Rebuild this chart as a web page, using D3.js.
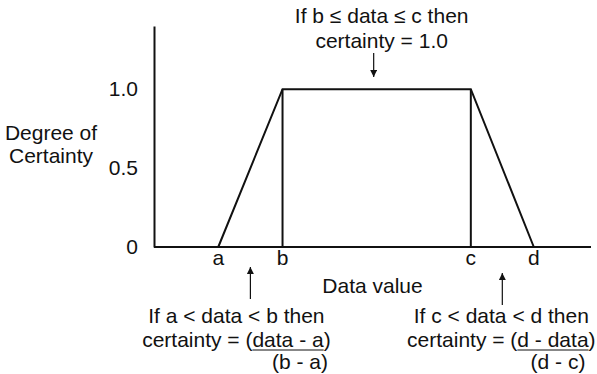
<!DOCTYPE html>
<html>
<head>
<meta charset="utf-8">
<script src="https://cdn.jsdelivr.net/npm/d3@7"></script>
<style>
  body { margin: 0; background: #fff; }
  svg text { font-family: "Liberation Sans", Arial, Helvetica, sans-serif; font-size: 21px; fill: #111; }
</style>
</head>
<body>
<script>
// membership function breakpoints (data value units) and certainty
var categories = ["a", "b", "c", "d"];
var breakpoints = [1, 2, 4.93, 5.91];
var certainty = [0, 1, 1, 0];

// y axis ticks
var yTickValues = [0, 0.5, 1.0];
var yTickLabels = ["0", "0.5", "1.0"];

// axis extents
var xMax = 6.8;
var yMax = 1.4;

// annotation texts
var yTitle = ["Degree of", "Certainty"];
var xTitle = "Data value";
var topNote = ["If b \u2264 data \u2264 c then", "certainty = 1.0"];
var leftNote = ["If a < data < b then", ["certainty = (", "data - a", ")"], "(b - a)"];
var rightNote = ["If c < data < d then", ["certainty = (", "d - data", ")"], "(d - c)"];

var W = 597, H = 374;

var svg = d3.select("body").append("svg")
  .attr("width", W)
  .attr("height", H);

var x = d3.scaleLinear().domain([0, xMax]).range([154, 591]);
var y = d3.scaleLinear().domain([0, yMax]).range([247, 26]);

// arrowhead
svg.append("defs").append("marker")
  .attr("id", "head")
  .attr("viewBox", "0 0 10 10")
  .attr("refX", 10).attr("refY", 5)
  .attr("markerWidth", 8).attr("markerHeight", 7)
  .attr("markerUnits", "userSpaceOnUse")
  .attr("orient", "auto")
  .append("path")
  .attr("d", "M0,0 L10,5 L0,10 Z")
  .attr("fill", "#111");

// axes (no tick marks)
var yAxis = d3.axisLeft(y)
  .tickValues(yTickValues)
  .tickSize(0)
  .tickPadding(16)
  .tickFormat(function(d, i) { return yTickLabels[i]; });

var gy = svg.append("g")
  .attr("transform", "translate(" + x(0) + ",0)")
  .call(yAxis);
gy.select(".domain").attr("stroke", "#111").attr("stroke-width", 2);
gy.selectAll("text").attr("fill", null);
gy.attr("font-size", null).attr("font-family", null);

svg.append("line")
  .attr("x1", x(0)).attr("x2", x(xMax))
  .attr("y1", y(0)).attr("y2", y(0))
  .attr("stroke", "#111").attr("stroke-width", 2);

// trapezoid
var pts = breakpoints.map(function(v, i) { return [v, certainty[i]]; });
var line = d3.line()
  .x(function(d) { return x(d[0]); })
  .y(function(d) { return y(d[1]); });

svg.append("path")
  .attr("d", line(pts))
  .attr("fill", "none")
  .attr("stroke", "#111")
  .attr("stroke-width", 2)
  .attr("stroke-linejoin", "miter");

// verticals at b and c
svg.selectAll(".vert")
  .data(pts.filter(function(d) { return d[1] > 0; }))
  .enter().append("line")
  .attr("class", "vert")
  .attr("x1", function(d) { return x(d[0]); })
  .attr("x2", function(d) { return x(d[0]); })
  .attr("y1", y(0))
  .attr("y2", function(d) { return y(d[1]); })
  .attr("stroke", "#111")
  .attr("stroke-width", 2);

// breakpoint letters
svg.selectAll(".cat")
  .data(categories)
  .enter().append("text")
  .attr("class", "cat")
  .attr("x", function(d, i) { return x(breakpoints[i]); })
  .attr("y", y(0) + 18)
  .attr("text-anchor", "middle")
  .text(function(d) { return d; });

// axis titles
svg.append("text")
  .attr("x", (x(0) + x(xMax)) / 2)
  .attr("y", 293)
  .attr("text-anchor", "middle")
  .text(xTitle);

svg.selectAll(".ytitle")
  .data(yTitle)
  .enter().append("text")
  .attr("class", "ytitle")
  .attr("x", 51)
  .attr("y", function(d, i) { return 140 + i * 23; })
  .attr("text-anchor", "middle")
  .text(function(d) { return d; });

// top note
var topX = x((breakpoints[1] + breakpoints[2]) / 2);
svg.selectAll(".topnote")
  .data(topNote)
  .enter().append("text")
  .attr("class", "topnote")
  .attr("x", topX + 5)
  .attr("y", function(d, i) { return 23 + i * 25; })
  .attr("text-anchor", "middle")
  .text(function(d) { return d; });

svg.append("line")
  .attr("x1", topX - 3).attr("x2", topX - 3)
  .attr("y1", 53).attr("y2", 77)
  .attr("stroke", "#111").attr("stroke-width", 1.2)
  .attr("marker-end", "url(#head)");

// bottom notes
function bottomNote(note, cx, arrowTop, textShift, denomShift) {
  svg.append("line")
    .attr("x1", cx).attr("x2", cx)
    .attr("y1", arrowTop + 32).attr("y2", arrowTop)
    .attr("stroke", "#111").attr("stroke-width", 1.2)
    .attr("marker-end", "url(#head)");

  svg.append("text")
    .attr("x", cx + textShift)
    .attr("y", 323)
    .attr("text-anchor", "middle")
    .text(note[0]);

  var t = svg.append("text")
    .attr("x", cx + textShift)
    .attr("y", 347)
    .attr("text-anchor", "middle");
  t.selectAll("tspan").data(note[1]).enter().append("tspan")
    .text(function(d) { return d; });

  // underline numerator
  var node = t.node();
  var box = node.getBBox();
  var pre = note[1][0].length;
  var x0 = box.x + node.getSubStringLength(0, pre);
  var x1 = x0 + node.getSubStringLength(pre, note[1][1].length);
  svg.append("line")
    .attr("x1", x0).attr("x2", x1)
    .attr("y1", 350).attr("y2", 350)
    .attr("stroke", "#111").attr("stroke-width", 1.2);

  svg.append("text")
    .attr("x", (x0 + x1) / 2 + denomShift)
    .attr("y", 369)
    .attr("text-anchor", "middle")
    .text(note[2]);
}

bottomNote(leftNote, x((breakpoints[0] + breakpoints[1]) / 2), 267, -14, 12);
bottomNote(rightNote, x((breakpoints[2] + breakpoints[3]) / 2), 273, -1, 5);
</script>
</body>
</html>
